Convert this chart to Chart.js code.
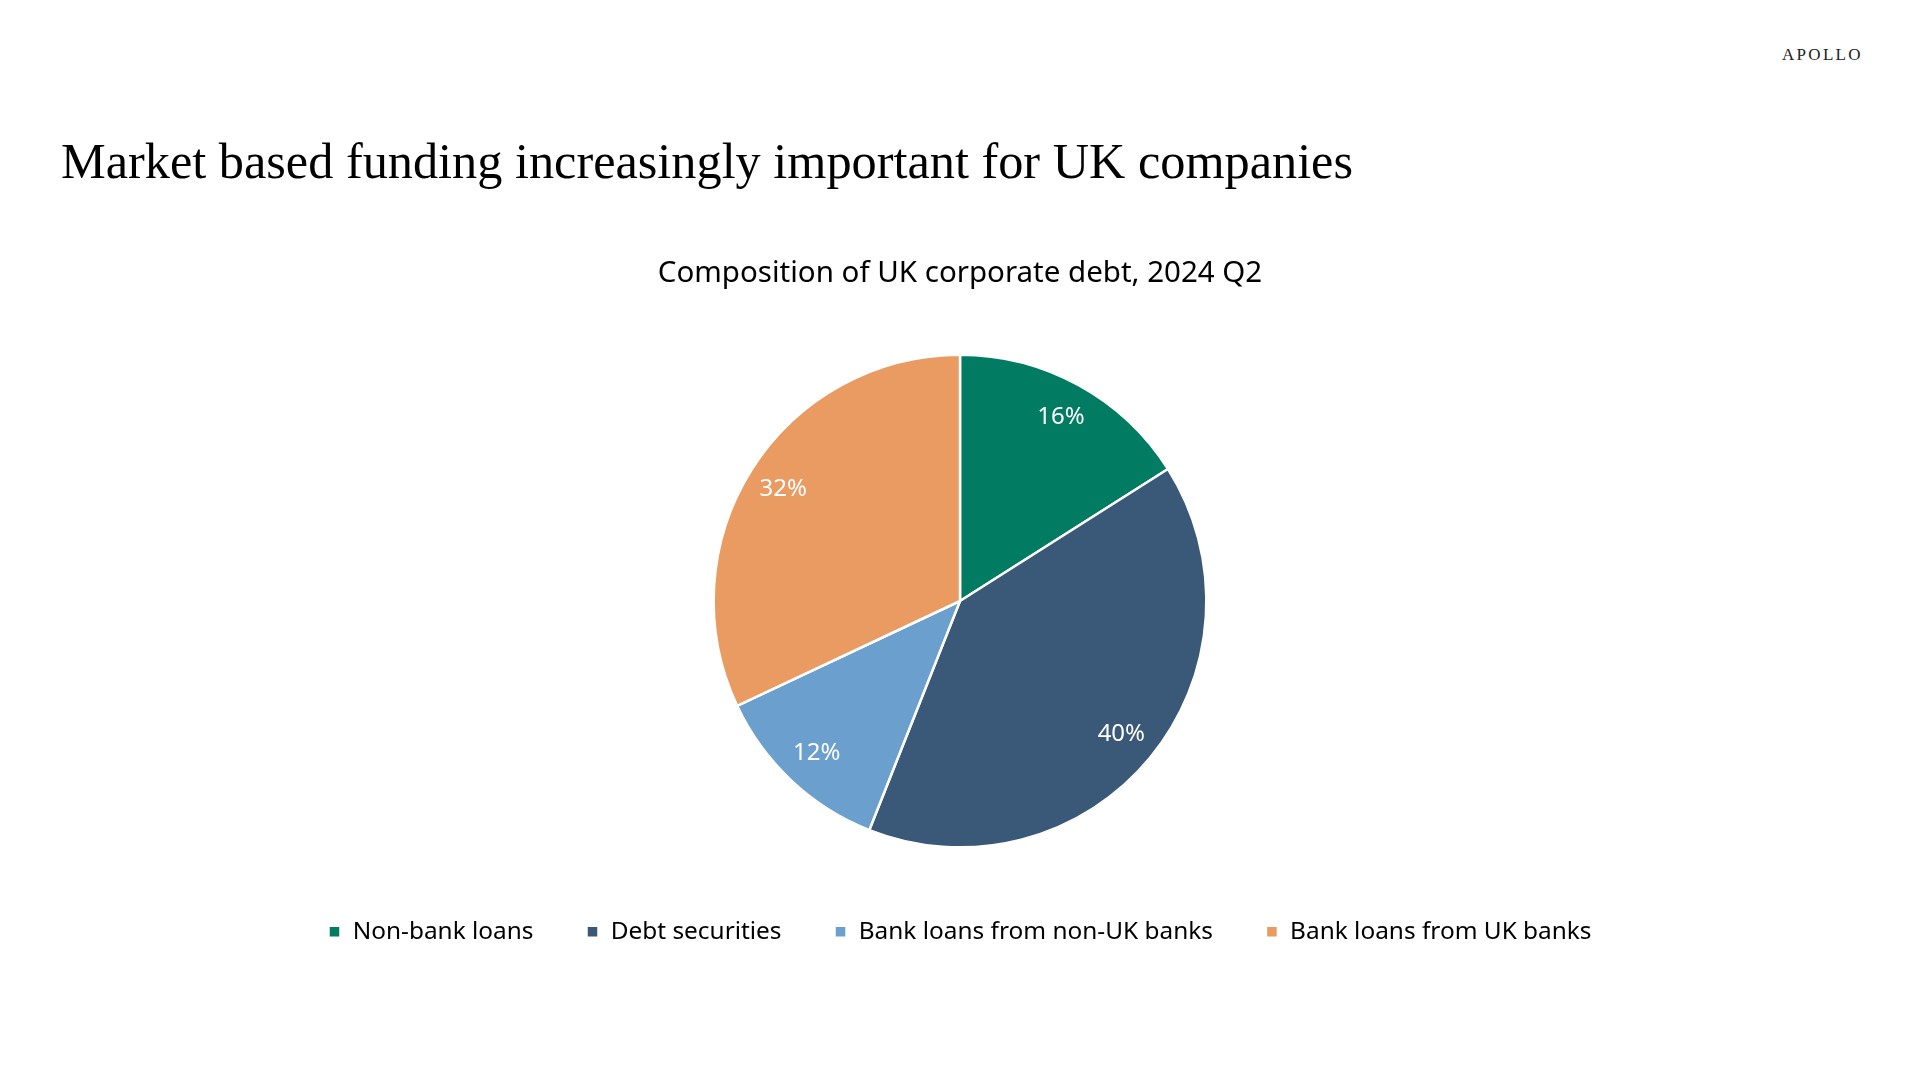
<!DOCTYPE html>
<html>
<head>
<meta charset="utf-8">
<script src="https://cdn.jsdelivr.net/npm/chart.js@4.4.1/dist/chart.umd.min.js"></script>
<style>
    html, body { margin: 0; padding: 0; background: #fff; }
    body { width: 1920px; height: 1080px; position: relative; overflow: hidden; }
    .logo {
        position: absolute; top: 45px; left: 1782px;
        font-family: "Liberation Serif", serif; font-size: 17px; letter-spacing: 2.3px; color: #222;
    }
    .title {
        position: absolute; top: 132px; left: 61px;
        font-family: "Liberation Serif", serif; font-size: 50.3px; color: #000; white-space: nowrap;
    }
    .chart-wrap { position: absolute; left: 0; top: 240px; width: 1920px; height: 740px; }
</style>
</head>
<body>
<div class="logo">APOLLO</div>
<div class="title">Market based funding increasingly important for UK companies</div>
<div class="chart-wrap"><canvas id="pieChart"></canvas></div>

<script>
const categories = ['Non-bank loans', 'Debt securities', 'Bank loans from non-UK banks', 'Bank loans from UK banks']
const shares = [16, 40, 12, 32]
const sliceColors = ['#017B62', '#3A5877', '#6B9FCE', '#E99B62']

const labelFont = '"Noto Sans", "Open Sans", sans-serif'

// percent labels placed inside each slice, near the rim
const sliceLabels = {
    id: 'sliceLabels',
    afterDatasetsDraw(chart) {
        const ctx = chart.ctx
        const meta = chart.getDatasetMeta(0)
        ctx.save()
        ctx.fillStyle = '#fff'
        ctx.font = '24px ' + labelFont
        ctx.textAlign = 'center'
        ctx.textBaseline = 'middle'
        meta.data.forEach((arc, i) => {
            const p = arc.getProps(['x', 'y', 'startAngle', 'endAngle', 'outerRadius'], true)
            const mid = (p.startAngle + p.endAngle) / 2
            const r = p.outerRadius * 0.85
            ctx.fillText(shares[i] + '%', p.x + Math.cos(mid) * r, p.y + Math.sin(mid) * r)
        })
        ctx.restore()
    }
}

new Chart(document.getElementById('pieChart'), {
    type: 'pie',
    data: {
        labels: categories,
        datasets: [{
            data: shares,
            backgroundColor: sliceColors,
            borderColor: '#fff',
            borderWidth: 2.5,
            hoverOffset: 0
        }]
    },
    options: {
        responsive: true,
        maintainAspectRatio: false,
        animation: false,
        layout: { padding: { bottom: 26 } },
        plugins: {
            tooltip: { enabled: false },
            title: {
                display: true,
                text: 'Composition of UK corporate debt, 2024 Q2',
                color: '#000',
                font: { family: labelFont, size: 29.5, weight: 'normal' },
                padding: { top: 16, bottom: 62 }
            },
            legend: {
                position: 'bottom',
                // empty title only used as extra gap above the legend row
                title: { display: true, text: '', font: { size: 10 }, padding: 3 },
                labels: {
                    color: '#000',
                    font: { family: labelFont, size: 24.4 },
                    boxWidth: 12,
                    boxHeight: 12,
                    padding: 53
                }
            }
        }
    },
    plugins: [sliceLabels]
})
</script>
</body>
</html>
